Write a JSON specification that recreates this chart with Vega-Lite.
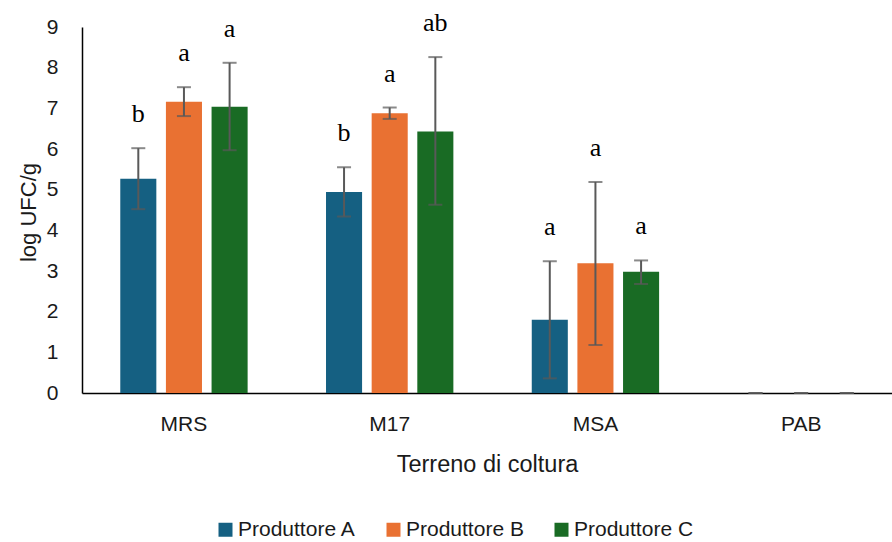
{
  "$schema": "https://vega.github.io/schema/vega-lite/v6.json",
  "autosize": {"type": "none"},
  "padding": {"left": 82, "top": 27, "right": 0, "bottom": 149},
  "width": 810,
  "height": 366,
  "background": "#ffffff",
  "data": {
    "values": [
      {"terreno": "MRS", "produttore": "Produttore A", "valore": 5.27, "min": 4.52, "max": 6.02, "lettera": "b"},
      {"terreno": "MRS", "produttore": "Produttore B", "valore": 7.16, "min": 6.81, "max": 7.52, "lettera": "a"},
      {"terreno": "MRS", "produttore": "Produttore C", "valore": 7.04, "min": 5.97, "max": 8.12, "lettera": "a"},
      {"terreno": "M17", "produttore": "Produttore A", "valore": 4.94, "min": 4.34, "max": 5.55, "lettera": "b"},
      {"terreno": "M17", "produttore": "Produttore B", "valore": 6.88, "min": 6.74, "max": 7.02, "lettera": "a"},
      {"terreno": "M17", "produttore": "Produttore C", "valore": 6.43, "min": 4.63, "max": 8.26, "lettera": "ab"},
      {"terreno": "MSA", "produttore": "Produttore A", "valore": 1.80, "min": 0.36, "max": 3.24, "lettera": "a"},
      {"terreno": "MSA", "produttore": "Produttore B", "valore": 3.19, "min": 1.18, "max": 5.19, "lettera": "a"},
      {"terreno": "MSA", "produttore": "Produttore C", "valore": 2.98, "min": 2.68, "max": 3.26, "lettera": "a"},
      {"terreno": "PAB", "produttore": "Produttore A", "valore": 0, "min": 0, "max": 0, "lettera": ""},
      {"terreno": "PAB", "produttore": "Produttore B", "valore": 0, "min": 0, "max": 0, "lettera": ""},
      {"terreno": "PAB", "produttore": "Produttore C", "valore": 0, "min": 0, "max": 0, "lettera": ""}
    ]
  },
  "encoding": {
    "x": {
      "field": "terreno",
      "type": "nominal",
      "sort": ["MRS", "M17", "MSA", "PAB"],
      "scale": {"paddingInner": 0.381, "paddingOuter": 0.159, "align": 0.585},
      "axis": {
        "title": "Terreno di coltura",
        "labelAngle": 0,
        "ticks": false,
        "tickSize": 0,
        "labelPadding": 20,
        "labelFont": "Liberation Sans",
        "labelFontSize": 21,
        "labelColor": "#1a1a1a",
        "domainColor": "#000000",
        "domainWidth": 1.5,
        "titleFont": "Liberation Sans",
        "titleFontSize": 23.5,
        "titleFontWeight": "normal",
        "titleColor": "#1a1a1a",
        "titleBaseline": "top",
        "titleY": 59
      }
    },
    "xOffset": {
      "field": "produttore",
      "type": "nominal",
      "scale": {"paddingInner": 0.21, "paddingOuter": 0}
    }
  },
  "layer": [
    {
      "mark": {"type": "bar"},
      "encoding": {
        "y": {
          "field": "valore",
          "type": "quantitative",
          "scale": {"domain": [0, 9], "nice": false},
          "axis": {
            "title": "log UFC/g",
            "values": [0, 1, 2, 3, 4, 5, 6, 7, 8, 9],
            "grid": false,
            "ticks": false,
            "tickSize": 0,
            "labelPadding": 24,
            "labelFont": "Liberation Sans",
            "labelFontSize": 21,
            "labelColor": "#1a1a1a",
            "domainColor": "#000000",
            "domainWidth": 1.5,
            "titleFont": "Liberation Sans",
            "titleFontSize": 22,
            "titleFontWeight": "normal",
            "titleColor": "#1a1a1a",
            "titleAngle": -90,
            "titleAlign": "center",
            "titleBaseline": "alphabetic",
            "titleX": -47,
            "titleY": 185
          }
        },
        "color": {
          "field": "produttore",
          "type": "nominal",
          "scale": {
            "domain": ["Produttore A", "Produttore B", "Produttore C"],
            "range": ["#156082", "#E97132", "#196B24"]
          },
          "legend": {
            "title": null,
            "orient": "none",
            "direction": "horizontal",
            "columns": 3,
            "gridAlign": "all",
            "legendX": 133,
            "legendY": 492,
            "padding": 0,
            "symbolType": "square",
            "symbolSize": 196,
            "symbolStrokeWidth": 0,
            "symbolOpacity": 1,
            "labelOffset": 2,
            "columnPadding": 25,
            "labelFont": "Liberation Sans",
            "labelFontSize": 21,
            "labelColor": "#1a1a1a"
          }
        }
      }
    },
    {
      "transform": [{"filter": "datum.terreno != 'PAB'"}],
      "mark": {"type": "rule", "color": "#595959", "strokeWidth": 2},
      "encoding": {
        "y": {"field": "min", "type": "quantitative"},
        "y2": {"field": "max"}
      }
    },
    {
      "mark": {"type": "tick", "color": "#595959", "thickness": 2, "size": 14, "orient": "horizontal"},
      "encoding": {
        "y": {"field": "min", "type": "quantitative"}
      }
    },
    {
      "mark": {"type": "tick", "color": "#595959", "thickness": 2, "size": 14, "orient": "horizontal"},
      "encoding": {
        "y": {"field": "max", "type": "quantitative"}
      }
    },
    {
      "transform": [{"filter": "datum.lettera != ''"}],
      "mark": {"type": "text", "font": "Liberation Serif", "fontSize": 26, "color": "#000000", "baseline": "middle", "align": "center", "dy": -34},
      "encoding": {
        "y": {"field": "max", "type": "quantitative"},
        "text": {"field": "lettera"}
      }
    }
  ],
  "config": {
    "view": {"stroke": null}
  }
}
